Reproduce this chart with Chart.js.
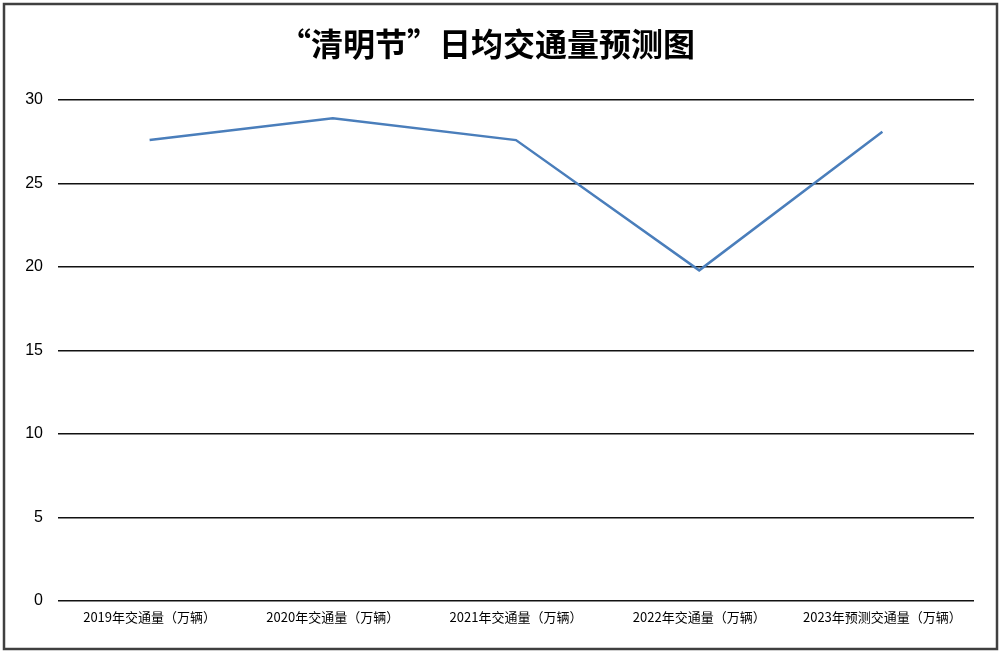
<!DOCTYPE html>
<html>
<head>
<meta charset="utf-8">
<script src="https://cdn.jsdelivr.net/npm/chart.js@4/dist/chart.umd.min.js"></script>
<style>
  html, body { margin: 0; padding: 0; background: #fff; }
  #wrap { position: relative; width: 1000px; height: 652px; }
</style>
</head>
<body>
<div id="wrap"><canvas id="c"></canvas></div>
<script>
const titleText = "“清明节”日均交通量预测图";
const categories = [
  "2019年交通量（万辆）",
  "2020年交通量（万辆）",
  "2021年交通量（万辆）",
  "2022年交通量（万辆）",
  "2023年预测交通量（万辆）"
];
const trafficValues = [27.6, 28.9, 27.6, 19.8, 28.1];
const yMin = 0, yMax = 30, yStep = 5;

const frame = {
  id: 'frame',
  afterDraw(chart) {
    const ctx = chart.ctx;
    ctx.save();
    ctx.strokeStyle = '#404040';
    ctx.lineWidth = 2.5;
    ctx.strokeRect(4, 4, 993, 645);
    ctx.restore();
  }
};

new Chart(document.getElementById('c'), {
  type: 'line',
  data: {
    labels: categories,
    datasets: [{
      data: trafficValues,
      borderColor: '#4a7ebb',
      borderWidth: 2.5,
      pointRadius: 0,
      tension: 0,
      fill: false
    }]
  },
  options: {
    responsive: true,
    maintainAspectRatio: false,
    animation: false,
    devicePixelRatio: 1,
    layout: { padding: { left: 0, right: 26, top: 0, bottom: 0 } },
    plugins: {
      legend: { display: false },
      tooltip: { enabled: false },
      title: {
        display: true,
        text: titleText,
        color: '#000',
        font: { family: "'Noto Sans CJK SC', sans-serif", size: 32, weight: 'bold', lineHeight: 1.125 },
        padding: { top: 26, bottom: 38 }
      }
    },
    scales: {
      x: {
        offset: true,
        grid: { display: false, drawTicks: false },
        border: { display: false },
        ticks: {
          color: '#000',
          font: { family: "'Noto Sans CJK SC', sans-serif", size: 13 },
          padding: 8,
          maxRotation: 0,
          autoSkip: false
        },
        afterFit(scale) { scale.height = 51; }
      },
      y: {
        min: yMin,
        max: yMax,
        ticks: {
          stepSize: yStep,
          color: '#000',
          font: { family: "'Liberation Sans', Arial, sans-serif", size: 16 },
          padding: 15
        },
        grid: { color: '#111', lineWidth: 1.5, drawTicks: false },
        border: { display: false },
        afterFit(scale) { scale.width = 58; }
      }
    }
  },
  plugins: [frame]
});
</script>
</body>
</html>
